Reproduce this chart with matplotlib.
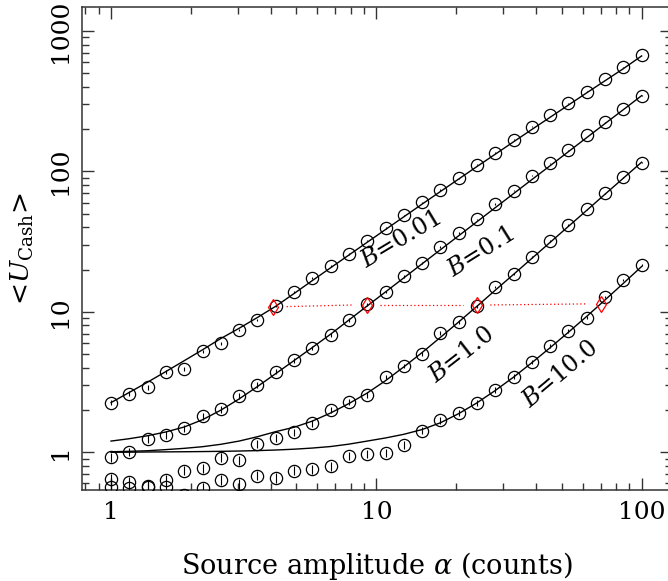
import numpy as np
import matplotlib.pyplot as plt
from matplotlib.ticker import LogLocator, NullFormatter, FixedLocator, FixedFormatter

plt.rcParams['font.family'] = ['DejaVu Serif']
plt.rcParams['mathtext.fontset'] = 'dejavuserif'

# source amplitude grid (counts)
alpha = [1.00, 1.172, 1.374, 1.610, 1.887, 2.212, 2.593, 3.039, 3.562, 4.175,
         4.894, 5.736, 6.723, 7.880, 9.237, 10.83, 12.69, 14.87, 17.43, 20.43,
         23.95, 28.07, 32.90, 38.57, 45.20, 52.98, 62.10, 72.79, 85.32, 100.0]

# simulated <U_Cash> (circles) for each background level
u_b001 = [2.26, 2.62, 2.90, 3.72, 3.95, 5.24, 5.97, 7.43, 8.75, 11.0,
          13.8, 17.4, 21.2, 25.7, 32.2, 39.6, 48.6, 60.5, 73.8, 89.5,
          112, 136, 168, 208, 253, 306, 370, 456, 552, 675]
u_b01 = [0.92, 1.01, 1.24, 1.33, 1.48, 1.81, 2.03, 2.53, 3.02, 3.75,
         4.52, 5.53, 6.88, 8.75, 11.3, 13.85, 17.9, 22.2, 29.1, 36.3,
         45.5, 58.7, 73.0, 93.3, 114, 142, 182, 224, 279, 347]
u_b1 = [0.645, 0.618, 0.575, 0.635, 0.74, 0.769, 0.916, 0.881, 1.14, 1.26,
        1.39, 1.61, 2.00, 2.27, 2.56, 3.44, 4.12, 5.04, 7.10, 8.50,
        10.95, 15.0, 18.7, 24.6, 32.0, 41.6, 53.8, 70.0, 91.0, 115.6]
u_b10 = [0.569, 0.553, 0.562, 0.564, 0.50, 0.555, 0.635, 0.592, 0.681, 0.659,
         0.740, 0.759, 0.798, 0.946, 0.970, 0.993, 1.127, 1.425, 1.69, 1.91,
         2.24, 2.78, 3.45, 4.42, 5.71, 7.31, 9.10, 12.8, 16.9, 21.6]

# error bars
e_b001 = [0.10, 0.10, 0.11, 0.12, 0.13, 0.15, 0.16, 0.18, 0.20, 0.22,
          0.25, 0.28, 0.31, 0.35, 0.40, 0.45, 0.5, 0.6, 0.7, 0.8,
          0.9, 1.0, 1.1, 1.3, 1.5, 1.7, 1.9, 2.2, 2.5, 2.8]
e_b01 = [0.07, 0.07, 0.08, 0.08, 0.09, 0.10, 0.11, 0.12, 0.13, 0.15,
         0.17, 0.19, 0.21, 0.24, 0.27, 0.3, 0.35, 0.4, 0.45, 0.5,
         0.6, 0.7, 0.8, 0.9, 1.0, 1.1, 1.3, 1.5, 1.7, 1.9]
e_b1 = [0.05, 0.05, 0.05, 0.05, 0.055, 0.06, 0.065, 0.065, 0.075, 0.08,
        0.085, 0.09, 0.10, 0.11, 0.12, 0.14, 0.16, 0.18, 0.21, 0.24,
        0.27, 0.31, 0.35, 0.4, 0.45, 0.5, 0.6, 0.7, 0.8, 0.9]
e_b10 = [0.045, 0.045, 0.045, 0.045, 0.045, 0.045, 0.05, 0.05, 0.05, 0.05,
         0.055, 0.055, 0.06, 0.065, 0.065, 0.07, 0.075, 0.08, 0.09, 0.1,
         0.11, 0.12, 0.14, 0.16, 0.18, 0.2, 0.23, 0.27, 0.31, 0.35]

# model curves (solid lines)
m_b001 = [2.26, 2.67, 3.16, 3.76, 4.49, 5.37, 6.46, 7.64, 9.12, 10.96,
          13.5, 16.7, 20.6, 25.4, 31.3, 38.6, 47.5, 58.5, 71.9, 88.3,
          108.4, 132.7, 162.6, 199.1, 243.2, 297.2, 363.1, 442.6, 539.5, 665.0]
m_b01 = [1.202, 1.250, 1.312, 1.396, 1.514, 1.706, 1.995, 2.399, 2.938, 3.631,
         4.498, 5.572, 6.934, 8.750, 11.02, 13.87, 17.46, 21.98, 27.67, 34.83,
         43.85, 55.21, 69.50, 87.50, 109.9, 138.4, 174.2, 219.3, 275.4, 346.7]
m_b1 = [1.009, 1.016, 1.026, 1.045, 1.067, 1.096, 1.140, 1.202, 1.291, 1.403,
        1.507, 1.667, 1.905, 2.223, 2.642, 3.236, 4.055, 5.129, 6.577, 8.472,
        10.96, 14.26, 18.49, 24.04, 31.26, 40.64, 52.84, 68.87, 89.54, 116.4]
m_b10 = [1.000, 1.002, 1.005, 1.007, 1.009, 1.012, 1.016, 1.021, 1.028, 1.038,
         1.052, 1.072, 1.099, 1.143, 1.202, 1.265, 1.343, 1.452, 1.622, 1.884,
         2.249, 2.754, 3.428, 4.345, 5.559, 7.161, 9.290, 12.16, 15.96, 21.04]

# detection threshold points (red diamonds)
thr_alpha = [4.08, 9.2, 23.9, 70.1]
thr_u = [10.9, 11.2, 11.2, 11.4]

labels = ['$B$=0.01', '$B$=0.1', '$B$=1.0', '$B$=10.0']
label_x = [12.4, 24.8, 21.0, 49.3]
label_y = [32.5, 26.7, 4.94, 3.56]
label_rot = [31, 32, 38, 40]

fig = plt.figure(figsize=(6.68, 5.81), dpi=100)
ax = fig.add_axes([0.1228, 0.1566, 0.8832, 0.8313])

for u, e, m in [(u_b001, e_b001, m_b001), (u_b01, e_b01, m_b01),
                (u_b1, e_b1, m_b1), (u_b10, e_b10, m_b10)]:
    ax.plot(alpha, m, color='black', lw=1.0, zorder=2)
    ax.errorbar(alpha, u, yerr=e, fmt='o', ms=8.8, mfc='none', mec='black',
                mew=0.9, ecolor='black', elinewidth=0.8, capsize=0, zorder=3)

# dotted threshold line, broken around each diamond
gap = 1.125
for i in range(len(thr_alpha) - 1):
    ax.plot([thr_alpha[i] * gap, thr_alpha[i + 1] / gap],
            [thr_u[i], thr_u[i + 1]], color='red', ls=(0, (1, 2)), lw=0.9)
ax.plot(thr_alpha, thr_u, ls='none', marker='d', ms=8.6, mfc='none',
        mec='red', mew=0.9, zorder=4)

for t, x, y, r in zip(labels, label_x, label_y, label_rot):
    ax.text(x, y, t, fontsize=17, rotation=r, ha='center', va='center',
            rotation_mode='anchor')

ax.set_xscale('log')
ax.set_yscale('log')
ax.set_xlim(0.7774, 130.2)
ax.set_ylim(0.5387, 1483)

ax.xaxis.set_major_locator(FixedLocator([1, 10, 100]))
ax.xaxis.set_major_formatter(FixedFormatter(['1', '10', '100']))
ax.yaxis.set_major_locator(FixedLocator([1, 10, 100, 1000]))
ax.yaxis.set_major_formatter(FixedFormatter(['1', '10', '100', '1000']))
ax.xaxis.set_minor_locator(LogLocator(base=10, subs=np.arange(2, 10)))
ax.yaxis.set_minor_locator(LogLocator(base=10, subs=np.arange(2, 10)))
ax.xaxis.set_minor_formatter(NullFormatter())
ax.yaxis.set_minor_formatter(NullFormatter())

ax.tick_params(which='both', direction='in', top=True, right=True,
               labelsize=18, width=1.0, color='#333333')
ax.tick_params(which='major', length=8.6)
ax.tick_params(which='minor', length=5)
ax.tick_params(axis='x', pad=8)
ax.tick_params(axis='y', pad=7)
for lab in ax.get_yticklabels():
    lab.set_rotation(90)
    lab.set_va('center')

for s in ax.spines.values():
    s.set_linewidth(1.1)
    s.set_color('#333333')
ax.spines['right'].set_visible(False)

ax.set_xlabel(r'Source amplitude $\alpha$ (counts)', fontsize=19.5)
ax.set_ylabel(r'<$U_{\rm Cash}$>', fontsize=19)
ax.xaxis.set_label_coords(0.5, -0.125)
ax.yaxis.set_label_coords(-0.078, 0.5)
ax.xaxis.label.set_va('top')

fig.savefig('out.png', dpi=100)
